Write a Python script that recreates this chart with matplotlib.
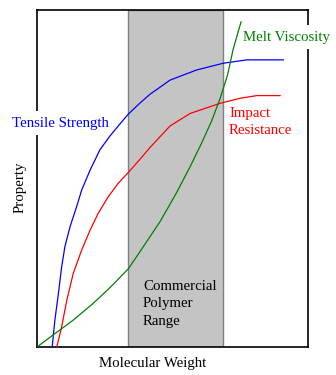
import matplotlib
matplotlib.use("Agg")
import matplotlib.pyplot as plt

# Data (normalized 0-100 axes)
tensile_x = [5.6, 6.6, 7.9, 9.1, 10.3, 12.2, 14.6, 16.5, 19.6, 23.2, 26.9, 30.6, 33.7, 38.0,
             41.7, 49.1, 58.9, 68.7, 77.4, 90.9]
tensile_y = [0, 8.0, 15.9, 23.8, 29.8, 35.7, 41.6, 46.6, 52.5, 58.5, 62.6, 66.2, 69.1, 72.4,
             75.0, 79.2, 82.2, 84.2, 85.2, 85.2]

impact_x = [7.3, 9.1, 11.0, 13.4, 16.5, 19.6, 22.6, 26.3, 30.0, 33.7, 38.0, 41.7, 49.1, 56.5,
            67.5, 74.9, 81.1, 89.7]
impact_y = [0, 6.0, 13.9, 21.9, 28.8, 34.7, 39.7, 44.6, 48.6, 51.8, 55.7, 59.2, 65.6, 69.3,
            72.3, 73.8, 74.6, 74.6]

melt_x = [0, 6.0, 13.4, 20.8, 26.9, 33.7, 38.0, 45.4, 51.5, 56.5, 60.8, 64.5, 67.5, 70.3, 72.4, 75.3]
melt_y = [0, 3.6, 8.0, 13.0, 17.6, 23.2, 28.3, 37.2, 45.8, 53.5, 60.6, 67.2, 73.6, 80.7, 88.4, 96.5]

commercial_range = [33.6, 68.6]

W, H = 336, 375
fig = plt.figure(figsize=(W / 100, H / 100), dpi=100)
ax = fig.add_axes([37 / W, 1 - 347 / H, 271 / W, 337 / H])
ax.set_xlim(0, 100)
ax.set_ylim(0, 100)
ax.set_xticks([])
ax.set_yticks([])
for s in ax.spines.values():
    s.set_linewidth(1.2)
    s.set_color("black")
    s.set_zorder(2.5)

ax.axvspan(commercial_range[0], commercial_range[1], facecolor="#c4c4c4", edgecolor="#808080",
           linewidth=1.0, zorder=1)

lw = 0.9
ax.plot(tensile_x, tensile_y, color="#0000ff", lw=lw, zorder=3)
ax.plot(impact_x, impact_y, color="#ff0000", lw=lw, zorder=3)
ax.plot(melt_x, melt_y, color="#008000", lw=lw, zorder=3)

font = ["Liberation Serif", "DejaVu Serif"]
fs = 10.7

def px_text(x, y, s, color, ha="left", va="center", rotation=0, bg=False):
    t = ax.text(x / W, 1 - y / H, s, color=color, ha=ha, va=va, rotation=rotation,
                family=font, fontsize=fs, zorder=2.8 if bg else 4, linespacing=1.5,
                transform=fig.transFigure, clip_on=False)
    if bg:
        t.set_bbox(dict(facecolor="white", edgecolor="none", pad=4))
    return t

px_text(12, 123, "Tensile Strength", "#0000ff", bg=True)
px_text(243, 37, "Melt Viscosity", "#008000", bg=True)
px_text(229, 122, "Impact\nResistance", "#ff0000")
px_text(143, 304, "Commercial\nPolymer\nRange", "black")
px_text(20, 187, "Property", "black", ha="center", rotation=90)
px_text(153, 364, "Molecular Weight", "black", ha="center")

fig.savefig("out.png", dpi=100, facecolor="white")
